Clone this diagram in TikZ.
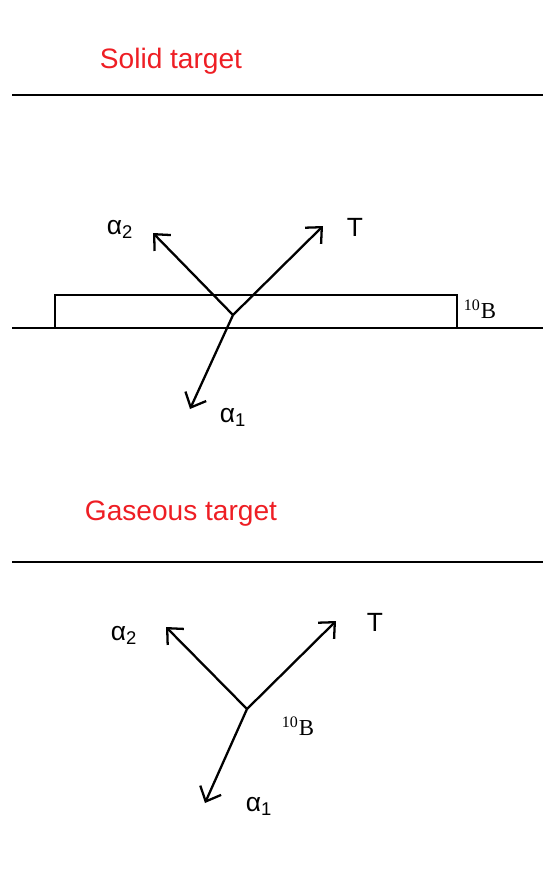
\documentclass[tikz,border=0pt]{standalone}
\usepackage{fontspec}
\setmainfont{Liberation Sans}
\newfontfamily\isofont{Liberation Serif}
\usetikzlibrary{arrows.meta}
\definecolor{titlered}{RGB}{238,30,36}
\begin{document}
\begin{tikzpicture}[x=0.02cm, y=-0.02cm,
    title/.style={text=titlered, font=\fontsize{16}{18}\selectfont},
    particle/.style={font=\fontsize{15}{17}\selectfont, inner sep=0pt},
    iso/.style={font=\isofont\fontsize{13}{15}\selectfont, inner sep=0pt},
    surface/.style={line width=1.2pt},
    track/.style={-{Straight Barb[length=7pt, width=13pt, line width=1.3pt]}, line width=1.3pt}
  ]
    \useasboundingbox (0,0) rectangle (543,894);
    % solid target
    \node[title] (solid) at (171,61) {Solid target};
    \draw[surface] (12,95) -- (543,95);
    \draw[line width=0.8pt] (55,295) rectangle (457,328);
    \draw[surface] (12,328) -- (543,328);
    \node[iso] (bs) at (480,309) {\textsuperscript{10}B};
    \coordinate (vs) at (233,315);
    \coordinate (as2) at (153,233);
    \coordinate (ts) at (323,226);
    \coordinate (as1) at (190,409);
    \draw[track] (vs) -- (as2);
    \draw[track] (vs) -- (ts);
    \draw[track] (vs) -- (as1);
    \node[particle] (las2) at (120,229) {α\textsubscript{2}};
    \node[particle] (lts) at (355,227) {T};
    \node[particle] (las1) at (233,417) {α\textsubscript{1}};
    % gaseous target
    \node[title] (gas) at (181,514) {Gaseous target};
    \draw[surface] (12,562) -- (543,562);
    \coordinate (vg) at (247,709);
    \coordinate (ag2) at (166,627);
    \coordinate (tg) at (336,621);
    \coordinate (ag1) at (205,803);
    \draw[track] (vg) -- (ag2);
    \draw[track] (vg) -- (tg);
    \draw[track] (vg) -- (ag1);
    \node[particle] (lag2) at (124,635) {α\textsubscript{2}};
    \node[particle] (ltg) at (375,622) {T};
    \node[particle] (lag1) at (259,806) {α\textsubscript{1}};
    \node[iso] (bg) at (298,726) {\textsuperscript{10}B};
  \end{tikzpicture}
\end{document}
